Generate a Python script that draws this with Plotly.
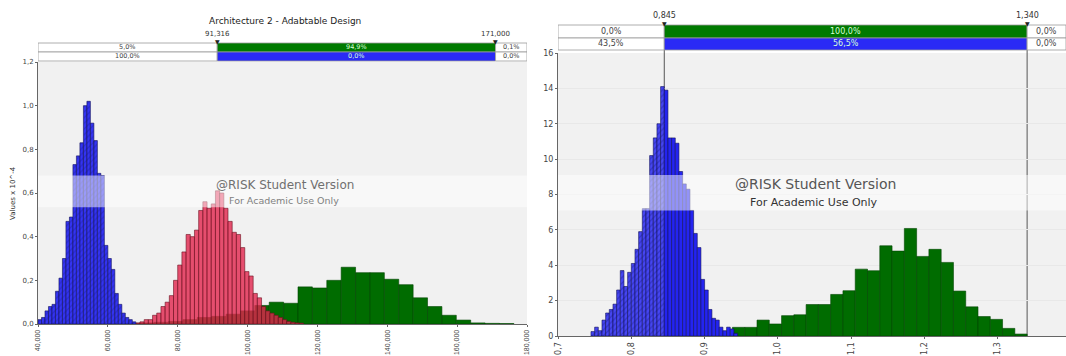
import plotly.graph_objects as go

W, H = 1066, 356

# ---------------- Left chart: Architecture 2 - Adabtable Design (values x 10^-4)
L_BLUE_START, L_BLUE_W = 40000, 1000
left_blue = [0.02, 0.03, 0.06, 0.08, 0.09, 0.15, 0.21, 0.30, 0.47, 0.49,
             0.73, 0.77, 0.83, 1.00, 1.02, 0.92, 0.84, 0.69, 0.68, 0.36,
             0.30, 0.25, 0.14, 0.09, 0.05, 0.03, 0.02, 0.01]
L_RED_START, L_RED_W = 68000, 1200
left_red = [0.005, 0.01, 0.02, 0.02, 0.04, 0.05, 0.08, 0.10, 0.13, 0.20,
            0.27, 0.33, 0.41, 0.40, 0.43, 0.52, 0.56, 0.53, 0.55, 0.61,
            0.60, 0.53, 0.47, 0.42, 0.41, 0.35, 0.24, 0.22, 0.14, 0.12,
            0.08, 0.06, 0.05, 0.04, 0.03, 0.02, 0.012, 0.008, 0.005, 0.004]
L_GREEN_START, L_GREEN_W = 65000, 4120
left_green = [0.003, 0.005, 0.008, 0.012, 0.02, 0.03, 0.035, 0.045, 0.06, 0.085,
              0.10, 0.095, 0.17, 0.165, 0.20, 0.26, 0.235, 0.235, 0.205, 0.18,
              0.12, 0.08, 0.04, 0.018, 0.005, 0.003, 0.002]
left_delims = [91316, 171000]
left_delim_labels = ["91,316", "171,000"]
left_row1 = ["5,0%", "94,9%", "0,1%"]
left_row2 = ["100,0%", "0,0%", "0,0%"]
left_xticks = [40000, 60000, 80000, 100000, 120000, 140000, 160000, 180000]
left_xticklabels = ["40,000", "60,000", "80,000", "100,000", "120,000", "140,000", "160,000", "180,000"]
left_yticks = [0, 0.2, 0.4, 0.6, 0.8, 1.0, 1.2]
left_yticklabels = ["0,0", "0,2", "0,4", "0,6", "0,8", "1,0", "1,2"]

# ---------------- Right chart
R_BLUE_START, R_BLUE_W = 0.745, 0.005
right_blue = [0.25, 0.5, 0.3, 0.9, 1.3, 1.5, 1.8, 2.6, 3.7, 2.8,
              3.6, 4.1, 4.9, 5.9, 7.2, 7.2, 10.2, 11.2, 12.0, 14.1,
              13.9, 11.2, 11.2, 10.9, 9.3, 8.6, 8.3, 7.1, 5.8, 5.0,
              3.2, 2.6, 1.5, 1.0, 0.9, 0.5, 0.3, 0.5, 0.4, 0.15]
R_GREEN_START, R_GREEN_W = 0.938, 0.01675
right_green = [0.49, 0.49, 0.9, 0.68, 1.15, 1.2, 1.78, 1.78, 2.35, 2.56,
               3.78, 3.69, 5.1, 4.8, 6.08, 4.5, 4.9, 4.16, 2.54, 1.65,
               1.1, 0.94, 0.43, 0.11]
right_delims = [0.845, 1.340]
right_delim_labels = ["0,845", "1,340"]
right_row1 = ["0,0%", "100,0%", "0,0%"]
right_row2 = ["43,5%", "56,5%", "0,0%"]
right_xticks = [0.7, 0.8, 0.9, 1.0, 1.1, 1.2, 1.3]
right_xticklabels = ["0,7", "0,8", "0,9", "1,0", "1,1", "1,2", "1,3"]
right_yticks = [0, 2, 4, 6, 8, 10, 12, 14, 16]

# ---------------- layout geometry (pixels -> paper)
def px(x):
    return x / W

def py(y):
    return 1 - y / H

L_XR = [40000, 180000]
R_XR = [0.7, 0.7 + (W - 558) / 733.0]
L_DOMX = [px(38), px(527)]
L_DOMY = [py(324), py(62)]
R_DOMX = [px(558), 1.0]
R_DOMY = [py(336), py(53)]

BLUE = "#3434f2"
BLUE_SOLID = "#2424f0"
GREEN = "#006c00"
RED = "rgba(226,38,78,0.80)"
FONT = "DejaVu Sans"
TICKFONT = "Liberation Sans"


def centers(start, width, vals):
    return [start + width * (i + 0.5) for i in range(len(vals))]


fig = go.Figure()

# left green
fig.add_trace(go.Bar(x=centers(L_GREEN_START, L_GREEN_W, left_green), y=left_green,
                     width=[L_GREEN_W] * len(left_green),
                     marker=dict(color=GREEN, line=dict(color="#004400", width=0.6)),
                     xaxis="x", yaxis="y", hoverinfo="skip"))
# left red
fig.add_trace(go.Bar(x=centers(L_RED_START, L_RED_W, left_red), y=left_red,
                     width=[L_RED_W] * len(left_red),
                     marker=dict(color=RED, line=dict(color="#6a0f1f", width=0.6)),
                     xaxis="x", yaxis="y", hoverinfo="skip"))
# left blue (hatched)
fig.add_trace(go.Bar(x=centers(L_BLUE_START, L_BLUE_W, left_blue), y=left_blue,
                     width=[L_BLUE_W] * len(left_blue),
                     marker=dict(color=BLUE, line=dict(color="#10105a", width=0.6),
                                 pattern=dict(shape="/", bgcolor=BLUE, fgcolor="#2222a8",
                                              size=4, solidity=0.3)),
                     xaxis="x", yaxis="y", hoverinfo="skip"))

# right green
fig.add_trace(go.Bar(x=centers(R_GREEN_START, R_GREEN_W, right_green), y=right_green,
                     width=[R_GREEN_W] * len(right_green),
                     marker=dict(color=GREEN, line=dict(color="#004400", width=0.6)),
                     xaxis="x2", yaxis="y2", hoverinfo="skip"))
# right blue split at first delimiter
rb_x = centers(R_BLUE_START, R_BLUE_W, right_blue)
hx, hy, sx, sy = [], [], [], []
for xc, v in zip(rb_x, right_blue):
    if xc + R_BLUE_W / 2 <= right_delims[0] + 1e-9:
        hx.append(xc); hy.append(v)
    else:
        sx.append(xc); sy.append(v)
fig.add_trace(go.Bar(x=hx, y=hy, width=[R_BLUE_W] * len(hx),
                     marker=dict(color=BLUE, line=dict(color="#10105a", width=0.6),
                                 pattern=dict(shape="/", bgcolor="#4646f2", fgcolor="#22229a",
                                              size=4, solidity=0.3)),
                     xaxis="x2", yaxis="y2", hoverinfo="skip"))
fig.add_trace(go.Bar(x=sx, y=sy, width=[R_BLUE_W] * len(sx),
                     marker=dict(color=BLUE_SOLID, line=dict(color="#10105a", width=0.6)),
                     xaxis="x2", yaxis="y2", hoverinfo="skip"))

shapes = []
annotations = []

# light watermark bands
shapes.append(dict(type="rect", xref="x domain", yref="y", x0=0, x1=1, y0=0.535, y1=0.68,
                   fillcolor="rgba(255,255,255,0.5)", line=dict(width=0), layer="above"))
shapes.append(dict(type="rect", xref="x2 domain", yref="y2", x0=0, x1=1, y0=7.1, y1=9.1,
                   fillcolor="rgba(255,255,255,0.5)", line=dict(width=0), layer="above"))


def band(xref, rng, delims, rows, row_pix, fsize, mid_colors):
    edges = [rng[0], delims[0], delims[1], rng[1]]
    for r, (labels, (ytop, ybot)) in enumerate(zip(rows, row_pix)):
        for c in range(3):
            fill = mid_colors[r] if c == 1 else "white"
            shapes.append(dict(type="rect", xref=xref, yref="paper",
                               x0=edges[c], x1=edges[c + 1], y0=py(ybot), y1=py(ytop),
                               fillcolor=fill, line=dict(color="#9a9a9a", width=0.8),
                               layer="above"))
            annotations.append(dict(x=(edges[c] + edges[c + 1]) / 2, y=py((ytop + ybot) / 2),
                                    xref=xref, yref="paper", text=labels[c], showarrow=False,
                                    font=dict(family=FONT, size=fsize,
                                              color="#d8ffd8" if c == 1 else "#444"),
                                    xanchor="center", yanchor="middle"))


band("x", L_XR, left_delims, [left_row1, left_row2], [(43, 52), (52, 61)], 6.5,
     ["#007a00", "#2a2af5"])
band("x2", R_XR, right_delims, [right_row1, right_row2], [(25, 38), (38, 50)], 8,
     ["#007a00", "#2a2af5"])

# delimiter labels and markers
for d, lab in zip(left_delims, left_delim_labels):
    annotations.append(dict(x=d, y=py(34), xref="x", yref="paper", text=lab, showarrow=False,
                            font=dict(family=FONT, size=7, color="#333"),
                            xanchor="center", yanchor="middle"))
    annotations.append(dict(x=d, y=py(42), xref="x", yref="paper", text="\u25bc", showarrow=False,
                            font=dict(family=FONT, size=6, color="#222"),
                            xanchor="center", yanchor="middle"))
for d, lab in zip(right_delims, right_delim_labels):
    annotations.append(dict(x=d, y=py(15), xref="x2", yref="paper", text=lab, showarrow=False,
                            font=dict(family=FONT, size=8, color="#333"),
                            xanchor="center", yanchor="middle"))
    annotations.append(dict(x=d, y=py(24), xref="x2", yref="paper", text="\u25bc", showarrow=False,
                            font=dict(family=FONT, size=6, color="#222"),
                            xanchor="center", yanchor="middle"))
    shapes.append(dict(type="line", xref="x2", yref="paper", x0=d, x1=d,
                       y0=R_DOMY[0], y1=py(25), line=dict(color="#555", width=1), layer="below"))


def text_note(xp, yp, txt, size, color, angle=0):
    annotations.append(dict(x=px(xp), y=py(yp), xref="paper", yref="paper", text=txt,
                            showarrow=False, textangle=angle, xanchor="center",
                            yanchor="middle", font=dict(family=FONT, size=size, color=color)))


text_note(285, 21, "Architecture 2 - Adabtable Design", 9, "#222")
text_note(13, 193, "Values x 10^-4", 7, "#333", -90)
text_note(285, 185, "@RISK Student Version", 12, "#707070")
text_note(284, 200, "For Academic Use Only", 9.5, "#808080")
text_note(815, 184, "@RISK Student Version", 14, "#555")
text_note(814, 202, "For Academic Use Only", 11, "#333")

axis_common = dict(showline=True, linecolor="#666", linewidth=1, ticks="outside",
                   ticklen=2, tickcolor="#666", zeroline=False, automargin=False)

fig.update_layout(
    width=W, height=H,
    margin=dict(l=0, r=0, t=0, b=0),
    paper_bgcolor="white",
    plot_bgcolor="#f1f1f1",
    barmode="overlay",
    showlegend=False,
    xaxis=dict(domain=L_DOMX, range=L_XR, anchor="y", tickvals=left_xticks,
               ticktext=left_xticklabels, tickangle=-90, showgrid=False,
               tickfont=dict(family=TICKFONT, size=7, color="#444"), **axis_common),
    yaxis=dict(domain=L_DOMY, range=[0, 1.2], anchor="x", tickvals=left_yticks,
               ticktext=left_yticklabels, showgrid=False,
               tickfont=dict(family=FONT, size=7, color="#444"), **axis_common),
    xaxis2=dict(domain=R_DOMX, range=R_XR, anchor="y2", tickvals=right_xticks,
                ticktext=right_xticklabels, tickangle=-90, showgrid=False,
                tickfont=dict(family=FONT, size=8, color="#444"), **axis_common),
    yaxis2=dict(domain=R_DOMY, range=[0, 16], anchor="x2", tickvals=right_yticks,
                showgrid=True, gridcolor="#e8e8e8",
                tickfont=dict(family=FONT, size=8, color="#444"), **axis_common),
    shapes=shapes,
    annotations=annotations,
)

fig.write_html("out.html", config={"displayModeBar": False},
               post_script="document.body.style.margin='0';document.body.style.overflow='hidden';")
